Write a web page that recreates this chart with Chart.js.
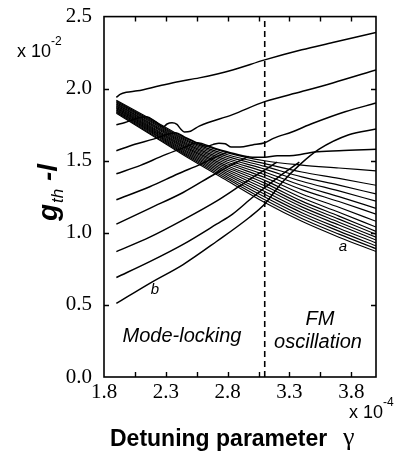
<!DOCTYPE html>
<html><head><meta charset="utf-8">
<script src="https://cdn.jsdelivr.net/npm/chart.js@4.4.1/dist/chart.umd.min.js"></script>
<style>html,body{margin:0;padding:0;background:#fff;}#wrap{width:406px;height:460px;}</style>
</head><body><div id="wrap"><canvas id="c" width="406" height="460"></canvas></div>
<script>
// ---- axes / ticks ----
const xTickLabels = [1.8, 2.3, 2.8, 3.3, 3.8];
const xTickMarks = [2.05, 2.3, 2.55, 2.8, 3.05, 3.3, 3.55, 3.8];
const yTickLabels = [0.0, 0.5, 1.0, 1.5, 2.0, 2.5];
const yTickMarks = [0.5, 1.0, 1.5, 2.0];
const boundaryGamma = 3.1;

// ---- descending band of curves (bottom "a" to top) ----
const bandGamma = [1.9, 2.2, 2.5, 2.8, 3.1, 3.4, 3.7, 4.0];
const band00 = [1.830,1.670,1.510,1.360,1.210,1.080,0.970,0.870];
const band01 = [1.836,1.677,1.519,1.373,1.229,1.100,0.991,0.890];
const band02 = [1.842,1.685,1.527,1.386,1.249,1.120,1.012,0.910];
const band03 = [1.848,1.692,1.536,1.399,1.268,1.140,1.032,0.930];
const band04 = [1.854,1.699,1.545,1.412,1.287,1.160,1.054,0.950];
const band05 = [1.860,1.707,1.553,1.425,1.307,1.180,1.074,0.970];
const band06 = [1.866,1.714,1.562,1.438,1.326,1.200,1.095,0.990];
const band07 = [1.872,1.721,1.571,1.451,1.345,1.220,1.116,1.010];
const band08 = [1.878,1.728,1.579,1.464,1.364,1.243,1.143,1.040];
const band09 = [1.884,1.736,1.588,1.477,1.384,1.270,1.177,1.080];
const band10 = [1.890,1.743,1.597,1.490,1.403,1.300,1.217,1.130];
const band11 = [1.896,1.750,1.605,1.503,1.422,1.328,1.251,1.170];
const band12 = [1.902,1.758,1.614,1.516,1.442,1.358,1.291,1.220];
const band13 = [1.908,1.765,1.623,1.529,1.461,1.388,1.331,1.270];
const band14 = [1.914,1.772,1.631,1.542,1.480,1.422,1.378,1.330];
const band15 = [1.920,1.780,1.640,1.555,1.500,1.470,1.450,1.430];

// ---- top curve ----
const topGamma = [1.9,1.93,1.98,2.07,2.25,2.41,2.57,2.84,3.1,3.4,3.65,4.0];
const topValue = [1.94,1.96,1.975,1.985,2.02,2.05,2.075,2.13,2.20,2.27,2.32,2.39];

// ---- rising curves from the left ----
const r1Gamma = [1.9,1.97,2.05,2.14,2.22,2.28,2.31,2.35,2.39,2.42,2.45,2.50,2.57,2.84,3.1,3.4,3.65,4.0];
const r1Value = [1.75,1.765,1.79,1.805,1.77,1.735,1.755,1.763,1.752,1.72,1.70,1.705,1.74,1.82,1.91,1.98,2.04,2.13];
const r2Gamma = [1.9,2.05,2.2,2.3,2.38,2.45,2.55,2.63,2.68,2.73,2.78,2.83,2.9,3.0,3.1,3.17,3.32,3.49,3.75,4.0];
const r2Value = [1.57,1.615,1.65,1.68,1.695,1.665,1.625,1.60,1.612,1.622,1.618,1.595,1.595,1.61,1.625,1.655,1.70,1.76,1.84,1.90];
const r3Gamma = [1.9,2.1,2.25,2.38,2.47,2.55,2.7,2.85,3.0,3.1,3.2,3.3,3.4,3.5,3.7,4.0];
const r3Value = [1.41,1.47,1.525,1.57,1.60,1.625,1.585,1.55,1.525,1.525,1.535,1.535,1.545,1.56,1.57,1.58];
const r4Gamma = [1.9,2.17,2.4,2.58,2.7,2.8];
const r4Value = [1.23,1.32,1.41,1.475,1.525,1.56];
const r5Gamma = [1.9,2.17,2.44,2.7,2.85,2.97];
const r5Value = [1.06,1.17,1.28,1.41,1.48,1.53];
const r6Gamma = [1.9,2.17,2.44,2.71,2.88,3.05,3.2];
const r6Value = [0.87,0.97,1.09,1.22,1.315,1.41,1.49];
const r7Gamma = [1.9,2.17,2.44,2.71,2.84,3.0,3.2,3.38];
const r7Value = [0.69,0.80,0.92,1.06,1.13,1.245,1.38,1.49];
const bGamma = [1.9,2.17,2.44,2.71,2.98,3.1,3.24,3.38,3.54,3.78,4.0];
const bValue = [0.51,0.65,0.78,0.94,1.11,1.20,1.35,1.47,1.58,1.68,1.72];

function line(g, v, w) {
  return { data: g.map((x, i) => ({ x: x, y: v[i] })), showLine: true, borderColor: '#000',
    borderWidth: w, pointRadius: 0, fill: false, cubicInterpolationMode: 'monotone' };
}
const bands = [band00,band01,band02,band03,band04,band05,band06,band07,band08,band09,band10,band11,band12,band13,band14,band15];
const datasets = bands.map(b => line(bandGamma, b, 1.15));
datasets.push(line(topGamma, topValue, 1.5));
datasets.push(line(r1Gamma, r1Value, 1.5));
datasets.push(line(r2Gamma, r2Value, 1.5));
datasets.push(line(r3Gamma, r3Value, 1.5));
datasets.push(line(r4Gamma, r4Value, 1.5));
datasets.push(line(r5Gamma, r5Value, 1.5));
datasets.push(line(r6Gamma, r6Value, 1.5));
datasets.push(line(r7Gamma, r7Value, 1.5));
datasets.push(line(bGamma, bValue, 1.5));
datasets.push({ data: [{x: boundaryGamma, y: 0}, {x: boundaryGamma, y: 2.5}], showLine: true,
  borderColor: '#000', borderWidth: 1.6, borderDash: [6, 4], pointRadius: 0, tension: 0 });

const SANS = '"Liberation Sans", Arial, sans-serif';
const SERIF = '"Liberation Serif", "Times New Roman", serif';

const annot = {
  id: 'annot',
  afterDraw(chart) {
    const ctx = chart.ctx;
    const { left, right, top, bottom } = chart.chartArea;
    const xs = chart.scales.x, ys = chart.scales.y;
    ctx.save();
    ctx.strokeStyle = '#000';
    ctx.fillStyle = '#000';
    ctx.lineWidth = 1.6;
    ctx.strokeRect(left, top, right - left, bottom - top);
    ctx.lineWidth = 1.4;
    ctx.beginPath();
    xTickMarks.forEach(v => {
      const px = Math.round(xs.getPixelForValue(v)) + 0.5;
      ctx.moveTo(px, bottom); ctx.lineTo(px, bottom - 5);
      ctx.moveTo(px, top); ctx.lineTo(px, top + 5);
    });
    yTickMarks.forEach(v => {
      const py = Math.round(ys.getPixelForValue(v)) + 0.5;
      ctx.moveTo(left, py); ctx.lineTo(left + 5, py);
      ctx.moveTo(right, py); ctx.lineTo(right - 5, py);
    });
    ctx.stroke();

    ctx.textBaseline = 'alphabetic';
    ctx.textAlign = 'left';
    // multipliers
    ctx.font = '18px ' + SANS;
    ctx.fillText('x 10', 17, 57);
    let w = ctx.measureText('x 10').width;
    ctx.font = '12px ' + SANS;
    ctx.fillText('-2', 17 + w, 45);
    ctx.font = '18px ' + SANS;
    ctx.fillText('x 10', 349, 418);
    w = ctx.measureText('x 10').width;
    ctx.font = '12px ' + SANS;
    ctx.fillText('-4', 349 + w, 406);

    // region labels
    ctx.font = 'italic 20px ' + SANS;
    ctx.textAlign = 'center';
    ctx.fillText('Mode-locking', 182, 342);
    ctx.fillText('FM', 320, 325);
    ctx.fillText('oscillation', 318, 348);
    ctx.font = 'italic 15px ' + SANS;
    ctx.fillText('a', 343, 251);
    ctx.fillText('b', 155, 294);

    // x title
    ctx.textAlign = 'left';
    ctx.font = 'bold 23px ' + SANS;
    ctx.fillText('Detuning parameter', 110, 446);
    ctx.font = '26px ' + SERIF;
    ctx.fillText('\u03B3', 343, 445);

    // y title (rotated)
    ctx.translate(57, 193);
    ctx.rotate(-Math.PI / 2);
    ctx.font = 'bold italic 28px ' + SANS;
    const wg = ctx.measureText('g').width;
    ctx.font = 'italic 17px ' + SANS;
    const wth = ctx.measureText('th').width;
    ctx.font = 'bold italic 28px ' + SANS;
    const wl = ctx.measureText(' -l').width;
    let x0 = -(wg + wth + wl) / 2;
    ctx.fillText('g', x0, 0);
    ctx.font = 'italic 17px ' + SANS;
    ctx.fillText('th', x0 + wg + 1, 6);
    ctx.font = 'bold italic 28px ' + SANS;
    ctx.fillText(' -l', x0 + wg + wth + 1, 0);
    ctx.restore();
  }
};

new Chart(document.getElementById('c'), {
  type: 'scatter',
  data: { datasets: datasets },
  options: {
    responsive: false,
    animation: false,
    layout: { padding: { top: 13, right: 30, left: 0, bottom: 0 } },
    plugins: { legend: { display: false }, tooltip: { enabled: false } },
    scales: {
      x: {
        type: 'linear', min: 1.8, max: 4.0,
        grid: { display: false }, border: { display: false },
        afterBuildTicks: s => { s.ticks = xTickLabels.map(v => ({ value: v })); },
        afterFit: s => { s.height = 83; },
        ticks: { padding: -5, color: '#000', maxRotation: 0, autoSkip: false,
          font: { family: 'Liberation Serif', size: 21 }, callback: v => Number(v).toFixed(1) }
      },
      y: {
        type: 'linear', min: 0, max: 2.5,
        grid: { display: false }, border: { display: false },
        afterBuildTicks: s => { s.ticks = yTickLabels.map(v => ({ value: v })); },
        afterFit: s => { s.width = 104; },
        ticks: { padding: 4, color: '#000', autoSkip: false,
          font: { family: 'Liberation Serif', size: 21 }, callback: v => Number(v).toFixed(1) }
      }
    }
  },
  plugins: [annot]
});
</script></body></html>
